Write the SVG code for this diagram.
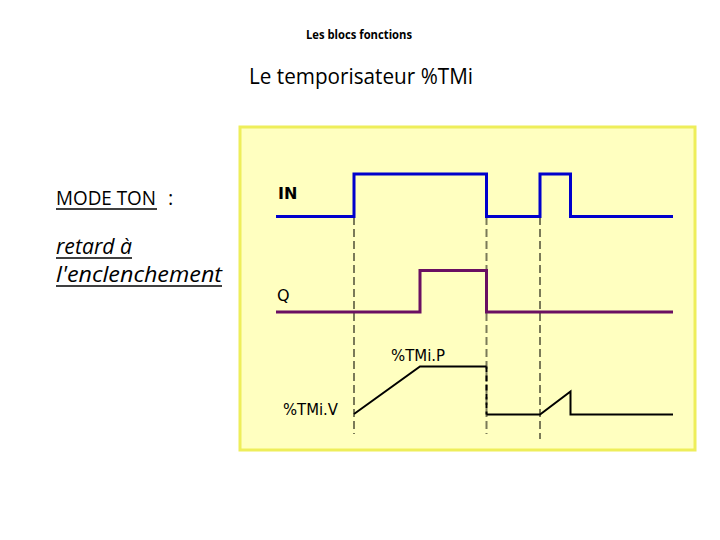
<svg xmlns="http://www.w3.org/2000/svg" width="720" height="540" viewBox="0 0 720 540">
<style>
.t{font-family:"Open Sans","Liberation Sans",sans-serif;fill:#000}
.c{font-family:"DejaVu Sans","Liberation Sans",sans-serif;fill:#000;font-size:16px}
.dash{stroke:#7a7a58;stroke-width:2;stroke-dasharray:8 4;fill:none}
.in{stroke:#0000cc;stroke-width:3;fill:none}
.q{stroke:#6a0f62;stroke-width:3;fill:none}
.v{stroke:#000;stroke-width:2;fill:none}
.ul{stroke:#000;stroke-width:1.5}
</style>
<rect width="720" height="540" fill="#fff"/>
<g id="titles">
<text class="t" x="306" y="39" font-size="13" font-weight="bold" textLength="106" lengthAdjust="spacingAndGlyphs">Les blocs fonctions</text>
<text class="t" x="249" y="84" font-size="21" textLength="224" lengthAdjust="spacingAndGlyphs">Le temporisateur %TMi</text>
</g>
<g id="left-text">
<text class="t" x="56" y="205" font-size="20" textLength="100" lengthAdjust="spacingAndGlyphs">MODE TON</text>
<text class="t" x="168" y="205" font-size="20">:</text>
<line class="ul" x1="56" y1="209" x2="157" y2="209"/>
<text class="t" x="56" y="254" font-size="22" font-style="italic" textLength="76" lengthAdjust="spacingAndGlyphs">retard à</text>
<line class="ul" x1="56" y1="258" x2="132" y2="258"/>
<text class="t" x="56" y="282" font-size="22" font-style="italic" textLength="166" lengthAdjust="spacingAndGlyphs">l'enclenchement</text>
<line class="ul" x1="56" y1="286" x2="222" y2="286"/>
</g>
<g id="chart-box">
<rect x="240" y="127" width="455" height="323" fill="#ffffc0" stroke="#eeee5a" stroke-width="3"/>
</g>
<g id="labels">
<text class="c" x="278" y="199" font-weight="bold">IN</text>
<text class="c" x="277" y="301">Q</text>
<text class="c" x="391" y="361" textLength="54" lengthAdjust="spacingAndGlyphs">%TMi.P</text>
<text class="c" x="283" y="415" textLength="55" lengthAdjust="spacingAndGlyphs">%TMi.V</text>
</g>
<g id="connectors">
<line class="dash" x1="354" y1="217" x2="354" y2="434"/>
<line class="dash" x1="486.5" y1="217" x2="486.5" y2="434"/>
<line class="dash" x1="540" y1="217" x2="540" y2="439"/>
<polyline class="in" points="276,216.5 354,216.5 354,174 486.5,174 486.5,216.5 540,216.5 540,174 570.5,174 570.5,216.5 673,216.5"/>
<polyline class="q" points="276,312 420,312 420,270.5 486.5,270.5 486.5,312 673,312"/>
<polyline class="v" points="354,414 420,366.5 486.5,366.5"/>
<line x1="486.5" y1="366.5" x2="486.5" y2="414.5" stroke="#000" stroke-width="2" stroke-dasharray="6 3"/>
<polyline class="v" points="486.5,414.5 540,414.5 570.5,391.5 570.5,414.5 673,414.5"/>
</g>
</svg>
